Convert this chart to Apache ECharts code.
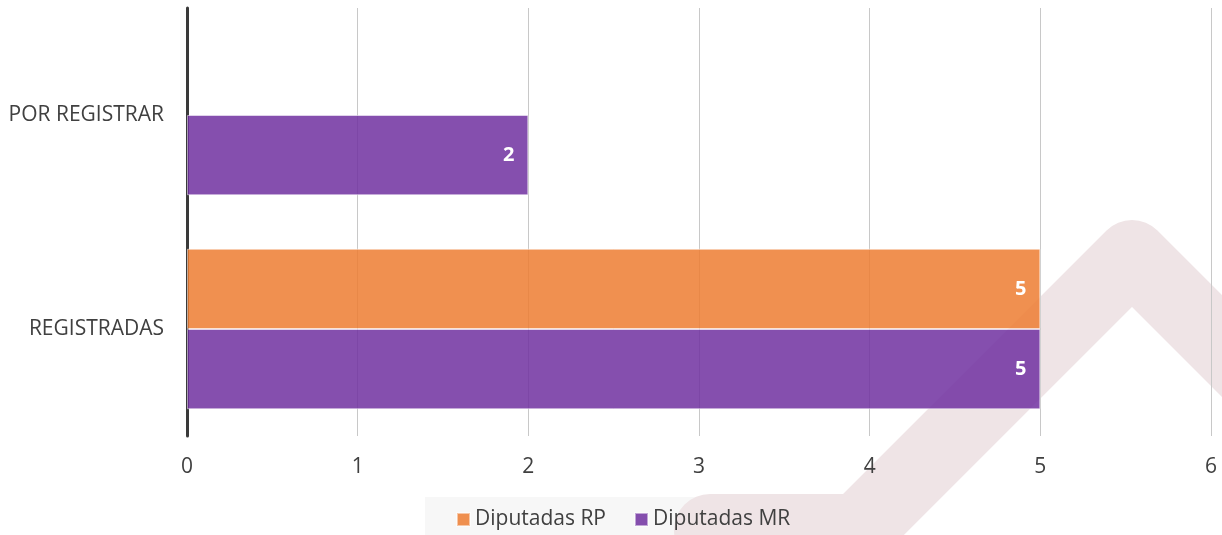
<!DOCTYPE html>
<html>
<head>
<meta charset="utf-8">
<script src="https://cdn.jsdelivr.net/npm/echarts@6/dist/echarts.min.js"></script>
<style>html,body{margin:0;padding:0;background:#fff}#c{width:1222px;height:535px}</style>
</head>
<body>
<div id="c"></div>
<script>
const categories = ['REGISTRADAS', 'POR REGISTRAR'];
const seriesNames = ['Diputadas RP', 'Diputadas MR'];
const rpValues = [5, 0];
const mrValues = [5, 2];
const xTicks = [0, 1, 2, 3, 4, 5, 6];

const FONT = '"Open Sans", "Noto Sans", sans-serif';
const chart = echarts.init(document.getElementById('c'), null, {renderer: 'canvas'});

const labelCfg = {
  show: true, position: 'insideRight', distance: 14,
  color: '#ffffff', fontWeight: 'bold', fontSize: 20, fontFamily: FONT,
  formatter: p => (p.value ? p.value : '')
};
const toItems = arr => arr.map(v => v === 0 ? {value: v, itemStyle: {opacity: 0, borderWidth: 0}} : v);

chart.setOption({
  animation: false,
  backgroundColor: '#ffffff',
  graphic: [
    {type: 'rect', z: -20, silent: true, shape: {x: 425, y: 497, width: 405, height: 40}, style: {fill: '#f7f7f7'}},
    {type: 'polyline', z: -10, silent: true,
     shape: {points: [[710, 530], [858, 530], [1132, 256], [1460, 584]]},
     style: {stroke: '#efe4e6', fill: null, lineWidth: 72, lineCap: 'round', lineJoin: 'round'}}
  ],
  grid: {left: 187, right: 11, top: 8, bottom: 99, containLabel: false},
  legend: {
    data: seriesNames, bottom: 0, left: 451, itemGap: 28,
    itemWidth: 13, itemHeight: 13, icon: 'rect',
    textStyle: {color: '#404040', fontSize: 21, fontFamily: FONT}
  },
  xAxis: {
    type: 'value', min: xTicks[0], max: xTicks[xTicks.length - 1], interval: 1,
    axisLine: {show: false}, axisTick: {show: false},
    axisLabel: {color: '#404040', fontSize: 21, fontFamily: FONT, margin: 21},
    splitLine: {show: true, lineStyle: {color: '#c8c8c8', width: 1}}
  },
  yAxis: {
    type: 'category', data: categories,
    axisLine: {show: true, lineStyle: {color: '#3a3a3a', width: 3}},
    axisTick: {show: false},
    axisLabel: {color: '#404040', fontSize: 21, fontFamily: FONT, margin: 23},
    splitLine: {show: false}
  },
  series: [
    {name: seriesNames[0], type: 'bar', data: toItems(rpValues), barGap: '0%', barCategoryGap: '25%',
     itemStyle: {color: 'rgba(237,125,49,0.85)', borderColor: 'rgba(255,255,255,0.5)', borderWidth: 1},
     label: labelCfg},
    {name: seriesNames[1], type: 'bar', data: toItems(mrValues), barGap: '0%', barCategoryGap: '25%',
     itemStyle: {color: 'rgba(112,48,160,0.85)', borderColor: 'rgba(255,255,255,0.5)', borderWidth: 1},
     label: labelCfg}
  ]
});
</script>
</body>
</html>
